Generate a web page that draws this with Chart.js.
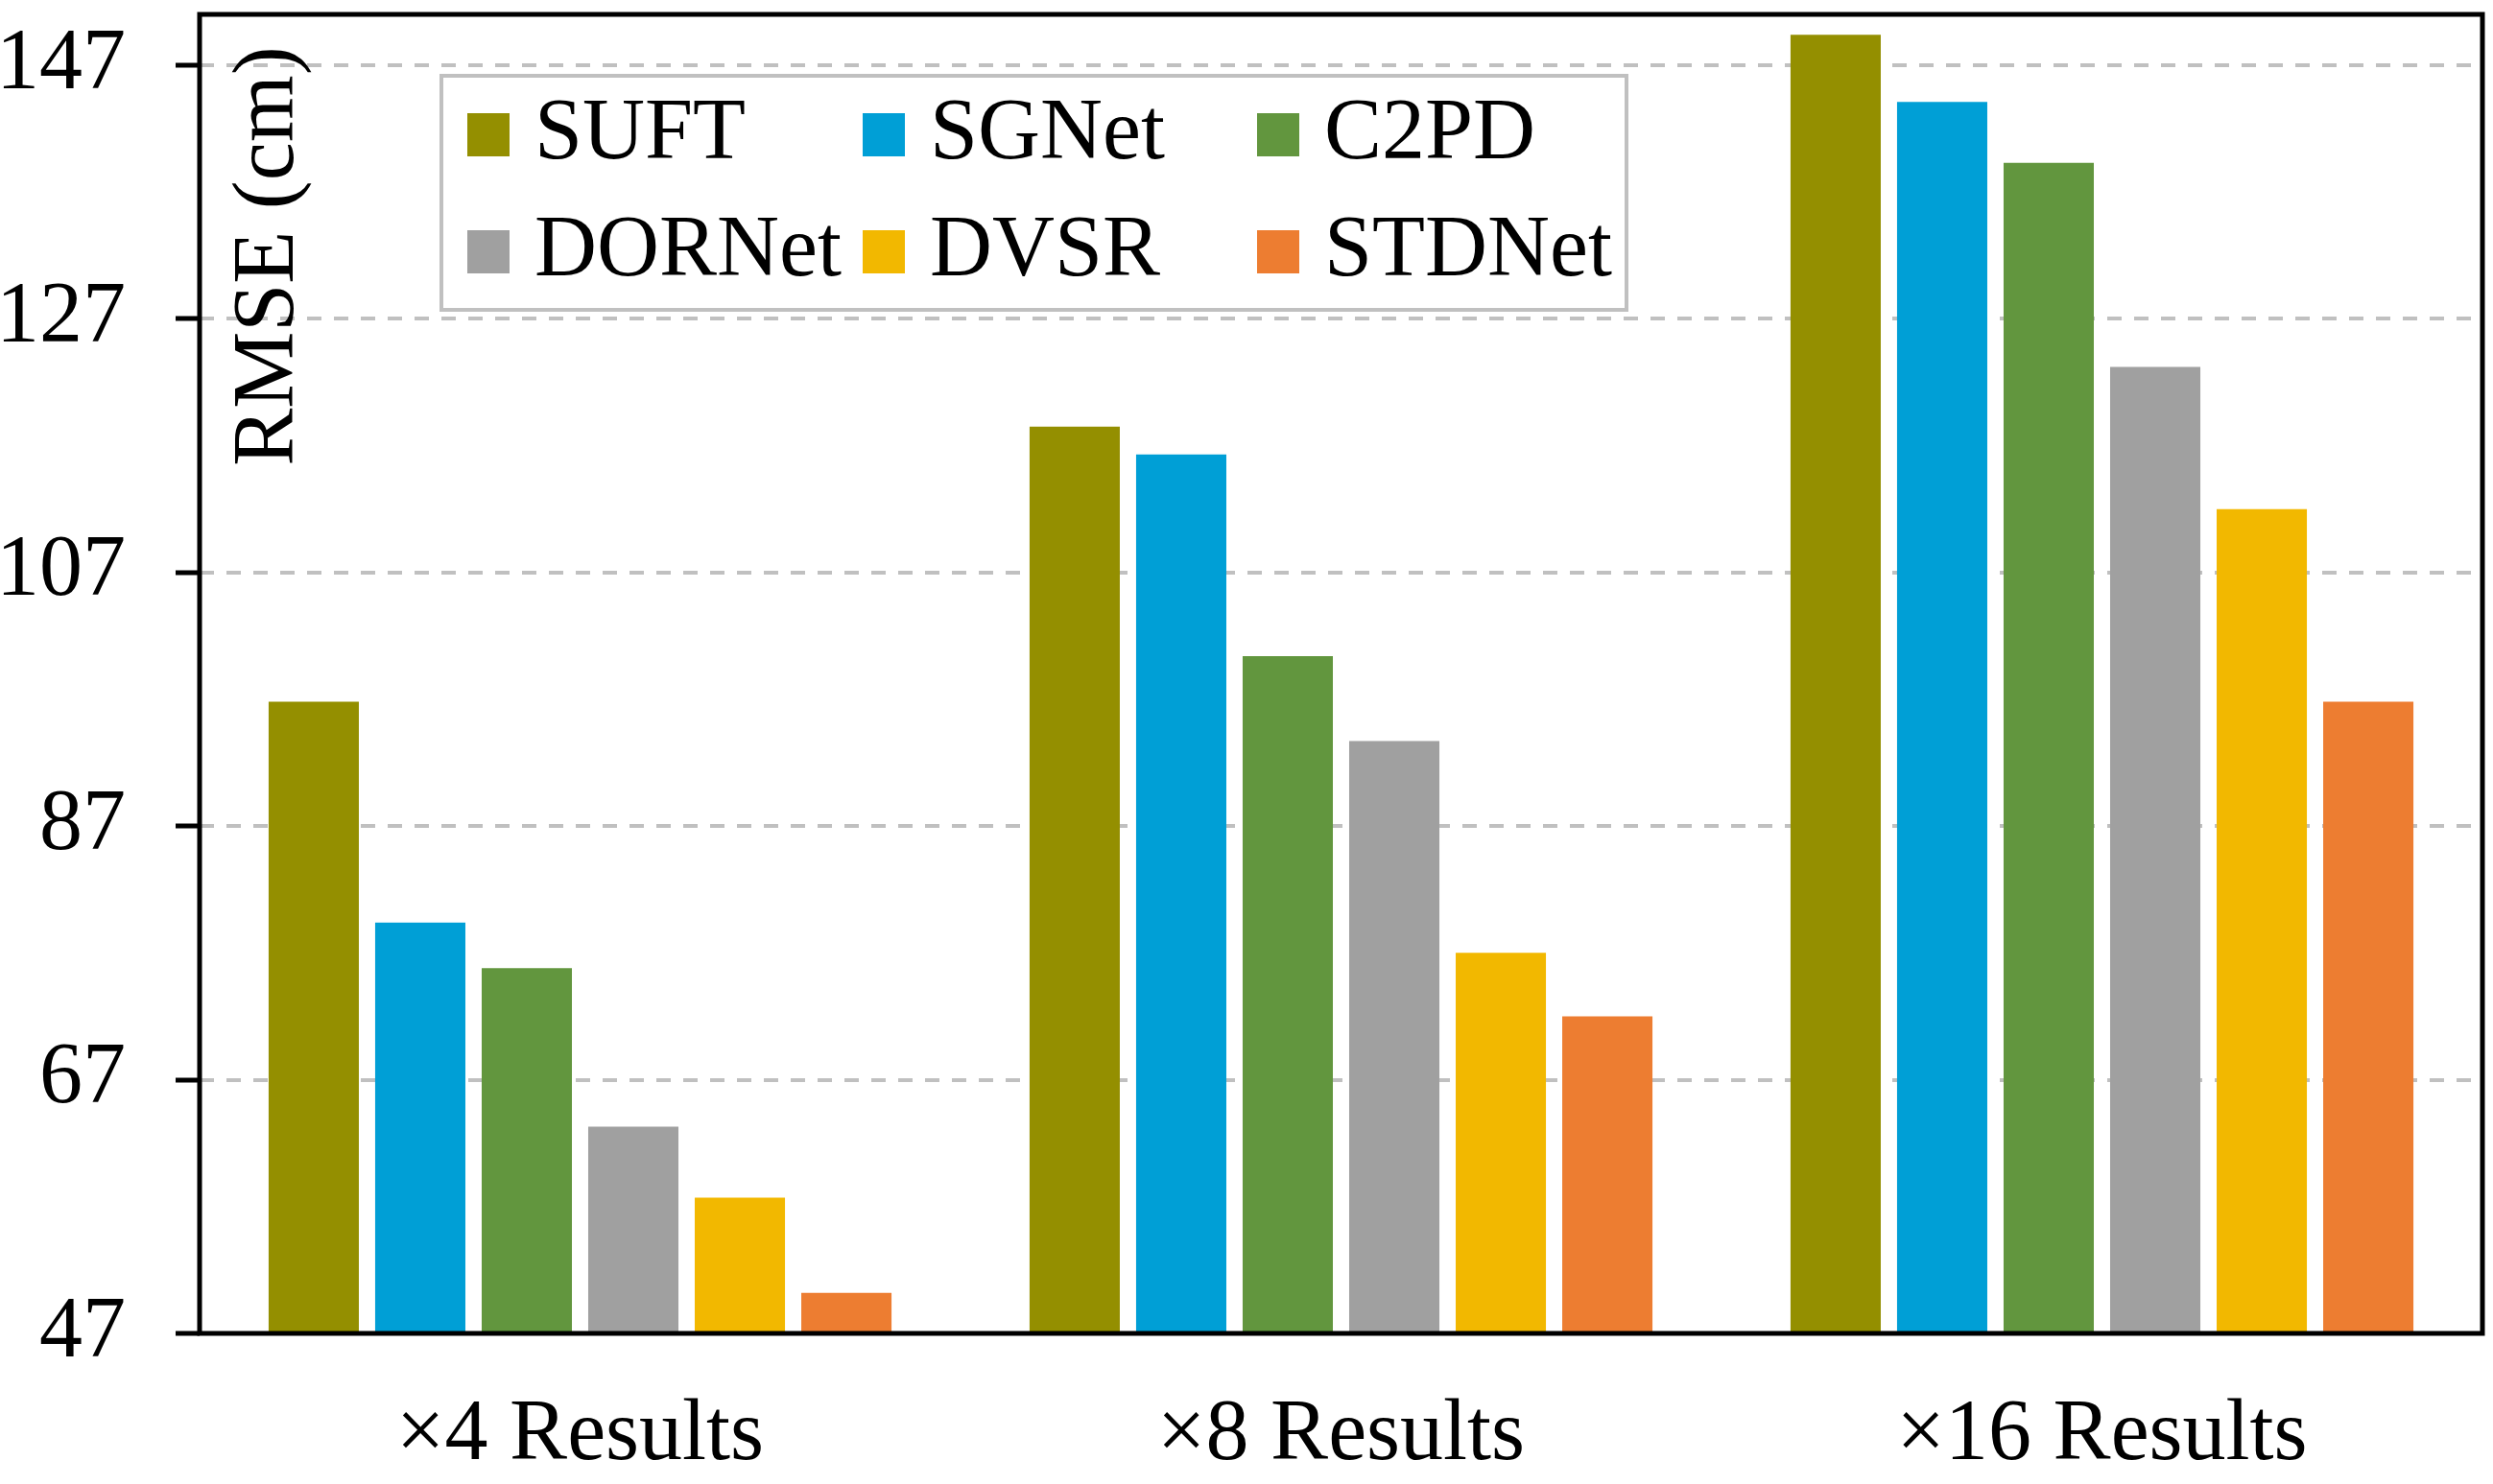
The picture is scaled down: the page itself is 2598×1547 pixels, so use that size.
<!DOCTYPE html>
<html>
<head>
<meta charset="utf-8">
<script src="https://cdn.jsdelivr.net/npm/chart.js@4/dist/chart.umd.min.js"></script>
<style>
html,body{margin:0;padding:0;background:#fff;}
#wrap{width:2598px;height:1547px;position:relative;}
</style>
</head>
<body>
<div id="wrap"><canvas id="c"></canvas></div>
<script>
// ---- data ----
const categories = ['×4 Results', '×8 Results', '×16 Results'];
const seriesNames = ['SUFT', 'SGNet', 'C2PD', 'DORNet', 'DVSR', 'STDNet'];
const SUFT   = [96.8, 118.5, 149.4];
const SGNet  = [79.4, 116.3, 144.1];
const C2PD   = [75.8, 100.4, 139.3];
const DORNet = [63.3, 93.7, 123.2];
const DVSR   = [57.7, 77.0, 112.0];
const STDNet = [50.2, 72.0, 96.8];
const yTicks = [47, 67, 87, 107, 127, 147];
const yMin = 47, yMax = 151;
const yTitle = 'RMSE (cm)';
const colors = ['#948F00', '#009FD6', '#62963E', '#A0A0A0', '#F2B800', '#ED7D31'];

const FONT = "'Liberation Serif', 'Times New Roman', serif";
const seriesValues = [SUFT, SGNet, C2PD, DORNet, DVSR, STDNet];

const frame = {
  id: 'frame',
  afterDraw(chart) {
    const a = chart.chartArea, ctx = chart.ctx;
    ctx.save();
    ctx.strokeStyle = '#000';
    ctx.lineWidth = 5;
    ctx.strokeRect(a.left, a.top, a.right - a.left, a.bottom - a.top);
    ctx.restore();
  }
};

const yTitlePlugin = {
  id: 'yTitleInside',
  afterDraw(chart) {
    const a = chart.chartArea, ctx = chart.ctx;
    ctx.save();
    ctx.translate(a.left + 97, a.top + 252);
    ctx.rotate(-Math.PI / 2);
    ctx.font = '90px ' + FONT;
    ctx.fillStyle = '#000';
    ctx.textAlign = 'center';
    ctx.textBaseline = 'alphabetic';
    ctx.fillText(yTitle, 0, 0);
    ctx.restore();
  }
};

const boxLegend = {
  id: 'boxLegend',
  afterDraw(chart) {
    const a = chart.chartArea, ctx = chart.ctx;
    const bx = a.left + 252, by = a.top + 64, bw = 1235, bh = 244;
    ctx.save();
    ctx.fillStyle = '#fff';
    ctx.fillRect(bx, by, bw, bh);
    ctx.strokeStyle = '#C0C0C0';
    ctx.lineWidth = 4;
    ctx.strokeRect(bx, by, bw, bh);
    const colX = [27, 439, 850];
    const rowY = [61, 183];
    ctx.font = '90px ' + FONT;
    ctx.textBaseline = 'middle';
    ctx.textAlign = 'left';
    chart.data.datasets.forEach((ds, i) => {
      const cx = bx + colX[i % 3];
      const cy = by + rowY[Math.floor(i / 3)];
      ctx.fillStyle = ds.backgroundColor;
      ctx.fillRect(cx, cy - 22, 44, 45);
      ctx.fillStyle = '#000';
      ctx.fillText(ds.label, cx + 70, cy + 1);
    });
    ctx.restore();
  }
};

new Chart(document.getElementById('c'), {
  type: 'bar',
  data: {
    labels: categories,
    datasets: seriesNames.map((n, i) => ({
      label: n,
      data: seriesValues[i],
      backgroundColor: colors[i],
      borderWidth: 0,
      categoryPercentage: 0.84,
      barPercentage: 0.847
    }))
  },
  options: {
    responsive: true,
    maintainAspectRatio: false,
    devicePixelRatio: 1,
    animation: false,
    layout: { padding: { top: 15, right: 11, left: 0, bottom: 0 } },
    plugins: { legend: { display: false }, tooltip: { enabled: false }, title: { display: false } },
    scales: {
      x: {
        grid: { display: false, drawTicks: false },
        border: { display: false },
        ticks: { color: '#000', font: { family: FONT, size: 90 }, padding: 53, maxRotation: 0, autoSkip: false },
        afterFit(s) { s.height = 157; }
      },
      y: {
        min: yMin,
        max: yMax,
        afterBuildTicks(s) { s.ticks = yTicks.map(v => ({ value: v })); },
        afterFit(s) { s.width = 208; s.paddingTop = 0; s.paddingBottom = 0; },
        grid: {
          color: '#C0C0C0',
          lineWidth: 4,
          borderDash: [15, 13],
          drawTicks: true,
          tickLength: 25,
          tickColor: '#000',
          tickWidth: 5,
          tickBorderDash: []
        },
        border: { display: false, dash: [15, 13], dashOffset: 0 },
        ticks: { color: '#000', font: { family: FONT, size: 90 }, padding: 52 }
      }
    }
  },
  plugins: [frame, yTitlePlugin, boxLegend]
});
</script>
</body>
</html>
